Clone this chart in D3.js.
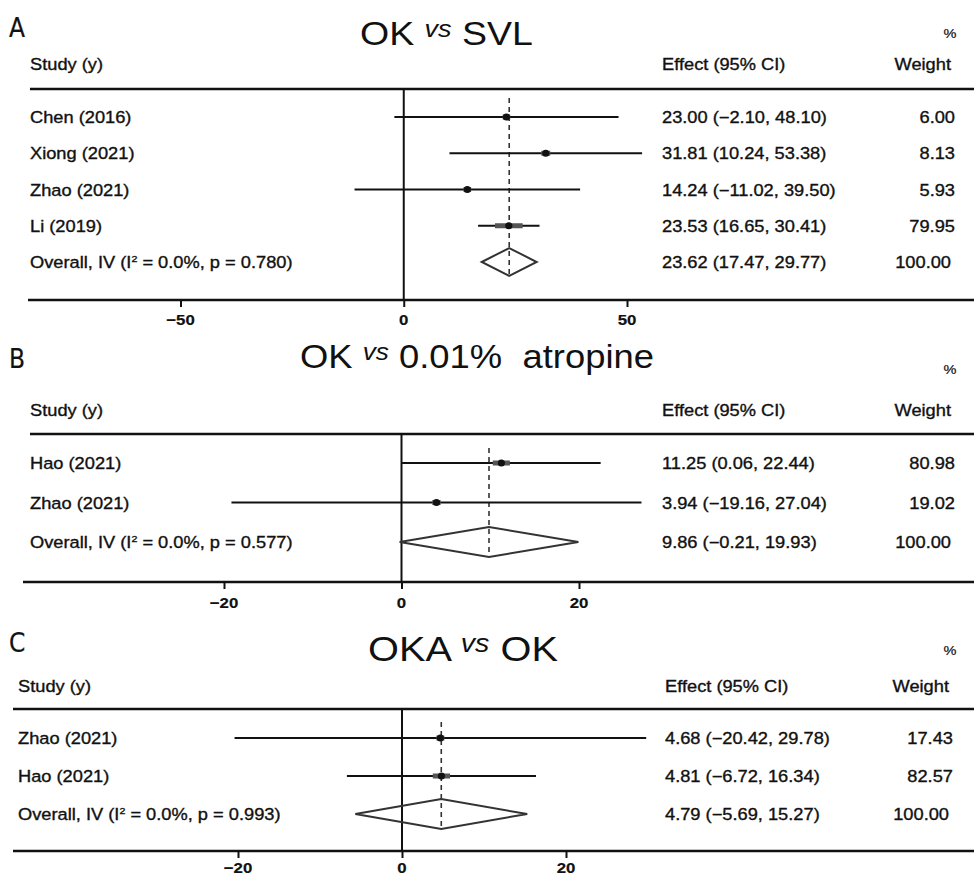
<!DOCTYPE html>
<html>
<head>
<meta charset="utf-8">
<script src="https://cdn.jsdelivr.net/npm/d3@7"></script>
<style>
  html, body { margin: 0; padding: 0; background: #fff; }
  svg { display: block; }
  text { font-family: "Liberation Sans", Arial, Helvetica, sans-serif; fill: #111; }
</style>
</head>
<body>
<svg id="chart" width="974" height="877"></svg>
<script>
// ---- Panel A: OK vs SVL ----
const studiesA = ["Chen (2016)", "Xiong (2021)", "Zhao (2021)", "Li (2019)"];
const effectA  = [23.00, 31.81, 14.24, 23.53];
const lowerA   = [-2.10, 10.24, -11.02, 16.65];
const upperA   = [48.10, 53.38, 39.50, 30.41];
const weightA  = [6.00, 8.13, 5.93, 79.95];
const overallA = [23.62, 17.47, 29.77];   // estimate, lower, upper
const hetA     = ["0.0%", "0.780"];       // I², p
const ticksA   = [-50, 0, 50];

// ---- Panel B: OK vs 0.01% atropine ----
const studiesB = ["Hao (2021)", "Zhao (2021)"];
const effectB  = [11.25, 3.94];
const lowerB   = [0.06, -19.16];
const upperB   = [22.44, 27.04];
const weightB  = [80.98, 19.02];
const overallB = [9.86, -0.21, 19.93];
const hetB     = ["0.0%", "0.577"];
const ticksB   = [-20, 0, 20];

// ---- Panel C: OKA vs OK ----
const studiesC = ["Zhao (2021)", "Hao (2021)"];
const effectC  = [4.68, 4.81];
const lowerC   = [-20.42, -6.72];
const upperC   = [29.78, 16.34];
const weightC  = [17.43, 82.57];
const overallC = [4.79, -5.69, 15.27];
const hetC     = ["0.0%", "0.993"];
const ticksC   = [-20, 0, 20];

const svg = d3.select("#chart");
const fmt = d3.format(".2f");
const SX = 1.12;   // horizontal stretch of the lettering
const FS = 16.3;   // body text size

function label(g, x, y, str, opts = {}) {
  const t = g.append("text")
    .attr("transform", `translate(${x},${y}) scale(${opts.sx || SX},1)`)
    .attr("font-size", opts.size || FS)
    .attr("text-anchor", opts.anchor || "start")
    .attr("font-weight", opts.weight || "normal")
    .attr("stroke", "#111").attr("stroke-width", opts.stroke ?? 0.35);
  if (opts.family) t.style("font-family", opts.family);
  t.text(str);
  return t;
}

function drawPanel(p) {
  const g = svg.append("g");
  const x = d3.scaleLinear().domain(p.domain).range(p.range);
  const n = p.studies.length;
  const y = d3.scaleLinear().domain([0, n]).range([p.firstRow, p.lastRow]);

  // panel letter
  label(g, p.letterX, p.letterY, p.letter,
    { size: 26, sx: 1, stroke: 0.2, family: "'Liberation Sans Narrow', 'DejaVu Sans Condensed', sans-serif" });

  // title with raised italic "vs"
  const tt = g.append("text")
    .attr("transform", `translate(${p.titleX},${p.titleY}) scale(${SX},1)`)
    .attr("font-size", p.titleSize)
    .attr("xml:space", "preserve");
  tt.append("tspan").text(p.titleL + " ");
  tt.append("tspan").attr("font-size", p.titleSize * 0.72).attr("font-style", "italic")
    .attr("dy", -p.titleSize * 0.24).text("vs");
  tt.append("tspan").attr("dy", p.titleSize * 0.24).text(" " + p.titleR);

  // header texts
  label(g, 950, p.pctY, "%", { size: 13, anchor: "middle", stroke: 0.2 });
  label(g, p.labelX, p.headY, "Study (y)");
  label(g, p.effX, p.headY, "Effect (95% CI)");
  label(g, p.wtX - 4, p.headY, "Weight", { anchor: "end" });

  // header rule
  g.append("line").attr("x1", p.ruleX).attr("x2", 974).attr("y1", p.topY).attr("y2", p.topY)
    .attr("stroke", "#111").attr("stroke-width", 2.5);

  // null line
  g.append("line").attr("x1", x(0)).attr("x2", x(0)).attr("y1", p.topY).attr("y2", p.axisY)
    .attr("stroke", "#111").attr("stroke-width", 2);

  // pooled-estimate dashed line
  g.append("line").attr("x1", x(p.overall[0])).attr("x2", x(p.overall[0]))
    .attr("y1", p.dashTop).attr("y2", y(n) + p.diamondH)
    .attr("stroke", "#333").attr("stroke-width", 1.6).attr("stroke-dasharray", "5,4");

  // bottom axis
  const axis = d3.axisBottom(x).tickValues(p.ticks).tickSize(7).tickFormat(d3.format("d"));
  const ax = g.append("g").attr("transform", `translate(0,${p.axisY})`).call(axis);
  ax.select(".domain").remove();
  ax.selectAll(".tick line").attr("stroke", "#111").attr("stroke-width", 2);
  ax.selectAll(".tick text").remove();
  p.ticks.forEach(v => label(ax, x(v), p.tickOff, d3.format("d")(v).replace("-", "\u2212"),
    { size: 15, anchor: "middle", weight: "bold", stroke: 0.2 }));
  g.append("line").attr("x1", p.axisX).attr("x2", 974).attr("y1", p.axisY).attr("y2", p.axisY)
    .attr("stroke", "#111").attr("stroke-width", 2.5);

  // studies
  p.studies.forEach((s, i) => {
    const yy = y(i);
    g.append("line").attr("x1", x(p.lower[i])).attr("x2", x(p.upper[i]))
      .attr("y1", yy).attr("y2", yy).attr("stroke", "#111").attr("stroke-width", 2);
    const bw = p.boxK * Math.sqrt(p.weight[i]);
    g.append("rect").attr("x", x(p.effect[i]) - bw / 2).attr("y", yy - 2.5)
      .attr("width", bw).attr("height", 5).attr("fill", "#555");
    g.append("circle").attr("cx", x(p.effect[i])).attr("cy", yy).attr("r", 3.6).attr("fill", "#111");
    label(g, p.labelX, yy + 6, s);
    label(g, p.effX, yy + 6,
      `${fmt(p.effect[i])} (${fmt(p.lower[i])}, ${fmt(p.upper[i])})`);
    label(g, p.wtX, yy + 6, fmt(p.weight[i]), { anchor: "end" });
  });

  // overall diamond
  const yo = y(n);
  const [est, lo, hi] = p.overall;
  const d = p.diamondH;
  g.append("path")
    .attr("d", `M${x(lo)},${yo} L${x(est)},${yo - d} L${x(hi)},${yo} L${x(est)},${yo + d} Z`)
    .attr("fill", "none").attr("stroke", "#333").attr("stroke-width", 2);
  const ot = g.append("text")
    .attr("transform", `translate(${p.labelX},${yo + 6}) scale(${SX},1)`)
    .attr("font-size", FS).attr("stroke", "#111").attr("stroke-width", 0.35);
  ot.append("tspan").text("Overall, IV (I");
  ot.append("tspan").attr("font-size", 9.5).attr("dy", -6.5).text("2");
  ot.append("tspan").attr("dy", 6.5).text(` = ${p.het[0]}, p = ${p.het[1]})`);
  label(g, p.effX, yo + 6, `${fmt(est)} (${fmt(lo)}, ${fmt(hi)})`);
  label(g, p.wtX - 4, yo + 6, "100.00", { anchor: "end" });
}

drawPanel({
  letter: "A", letterX: 9, letterY: 37,
  titleL: "OK", titleR: "SVL", titleX: 360, titleY: 45, titleSize: 33.5,
  pctY: 38, headY: 70, topY: 89, ruleX: 30, axisY: 300, axisX: 28, tickOff: 25,
  firstRow: 117, lastRow: 262, dashTop: 98, diamondH: 14,
  domain: [-50, 50], range: [180.5, 627],
  labelX: 30, effX: 662, wtX: 955, boxK: 3.1,
  studies: studiesA, effect: effectA, lower: lowerA, upper: upperA, weight: weightA,
  overall: overallA, het: hetA, ticks: ticksA
});

drawPanel({
  letter: "B", letterX: 9, letterY: 368,
  titleL: "OK", titleR: "0.01%  atropine", titleX: 300, titleY: 368, titleSize: 32.5,
  pctY: 374, headY: 416, topY: 434, ruleX: 30, axisY: 582, axisX: 23, tickOff: 26,
  firstRow: 463, lastRow: 542, dashTop: 448, diamondH: 15,
  domain: [-20, 20], range: [224, 579],
  labelX: 30, effX: 662, wtX: 955, boxK: 1.9,
  studies: studiesB, effect: effectB, lower: lowerB, upper: upperB, weight: weightB,
  overall: overallB, het: hetB, ticks: ticksB
});

drawPanel({
  letter: "C", letterX: 9, letterY: 652,
  titleL: "OKA", titleR: "OK", titleX: 368, titleY: 661, titleSize: 35.5,
  pctY: 655, headY: 692, topY: 709, ruleX: 13, axisY: 851, axisX: 13, tickOff: 22,
  firstRow: 738, lastRow: 814, dashTop: 722, diamondH: 15,
  domain: [-20, 20], range: [238, 566],
  labelX: 18, effX: 665, wtX: 953, boxK: 1.9,
  studies: studiesC, effect: effectC, lower: lowerC, upper: upperC, weight: weightC,
  overall: overallC, het: hetC, ticks: ticksC
});
</script>
</body>
</html>
